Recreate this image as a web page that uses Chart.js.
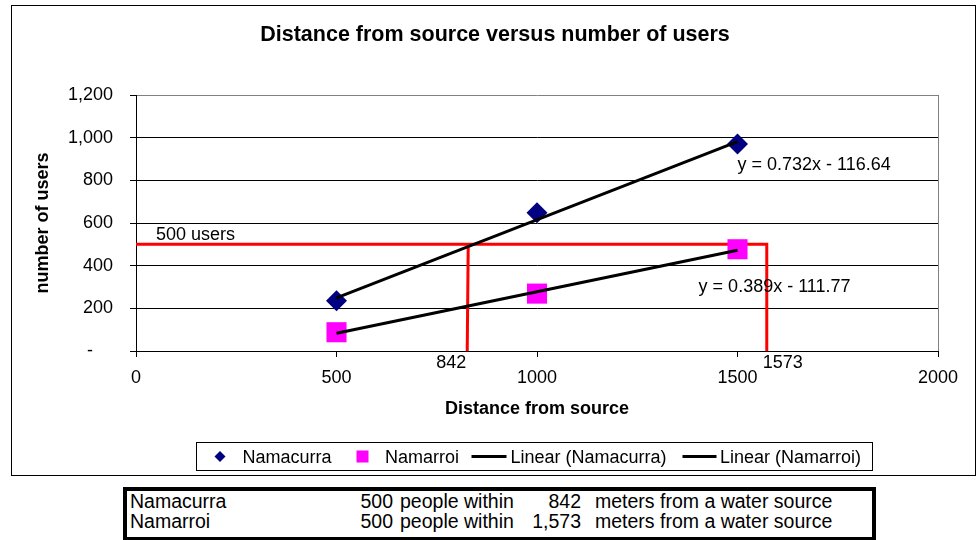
<!DOCTYPE html>
<html lang="en">
<head>
<meta charset="UTF-8" />
<title>Distance from source versus number of users</title>
<script src="https://cdn.jsdelivr.net/npm/chart.js"></script>
<style>
  body { margin: 0; background: #fff; font-family: "Liberation Sans", Arial, sans-serif; }
  .chart-box {
    position: absolute; left: 11px; top: 5px;
    width: 963px; height: 469px;
    border: 1px solid #000;
  }
  .summary {
    position: absolute; left: 123px; top: 487px;
    width: 753px; height: 54px;
    box-sizing: border-box;
    border: 4px solid #000;
    font-size: 19.5px; line-height: 20px; color: #000;
    padding-top: 0;
  }
  .summary .row { position: relative; height: 20px; }
  .summary span { position: absolute; white-space: nowrap; top: 0; }
  .summary .num { text-align: right; }
</style>
</head>
<body>

<div class="chart-box"><canvas id="chart" width="963" height="469"></canvas></div>
<div class="summary" id="summary"></div>

<script>
  // data
  const seriesNames = ['Namacurra', 'Namarroi'];
  const distances = [500, 1000, 1500];
  const namacurraUsers = [235, 648, 970];
  const namarroiUsers = [88, 269, 477];

  // trendline ends (x = 500 and x = 1500) and their equations
  const trendX = [500, 1500];
  const namacurraTrend = [249, 981];
  const namarroiTrend = [83, 472];
  const trendEquations = ['y = 0.732x - 116.64', 'y = 0.389x - 111.77'];

  // red guide lines
  const guideUsers = 500;
  const guideDistances = [826, 1573];
  const guideLabels = ['842', '1573'];

  // table under the chart
  const tableNames = ['Namacurra', 'Namarroi'];
  const tablePeople = [500, 500];
  const tableMeters = [842, 1573];

  const pts = (xs, ys) => xs.map((v, i) => ({ x: v, y: ys[i] }));

  Chart.defaults.font.family = '"Liberation Sans", Arial, sans-serif';
  Chart.defaults.color = '#000';

  const overlay = {
    id: 'overlay',
    beforeDatasetsDraw(chart) {
      const { ctx, chartArea: a, scales: { x, y } } = chart;
      ctx.save();
      // right edge of plot area
      ctx.strokeStyle = '#808080';
      ctx.lineWidth = 1;
      ctx.beginPath();
      ctx.moveTo(a.right + 0.5, a.top);
      ctx.lineTo(a.right + 0.5, a.bottom);
      ctx.stroke();

      // red 500 users lines
      const gy = y.getPixelForValue(guideUsers);
      const x1 = x.getPixelForValue(guideDistances[0]);
      const x2 = x.getPixelForValue(guideDistances[1]);
      ctx.strokeStyle = '#ff0000';
      ctx.lineWidth = 3;
      ctx.beginPath();
      ctx.moveTo(a.left, gy);
      ctx.lineTo(x2, gy);
      ctx.lineTo(x2, a.bottom);
      ctx.stroke();
      ctx.beginPath();
      ctx.moveTo(x1 + 1, gy);
      ctx.lineTo(x1, a.bottom);
      ctx.stroke();
      ctx.restore();
    },
    afterDraw(chart) {
      const { ctx, chartArea: a, scales: { x, y } } = chart;
      ctx.save();
      ctx.fillStyle = '#000';
      ctx.textBaseline = 'alphabetic';

      // title
      ctx.font = 'bold 21.5px "Liberation Sans", Arial, sans-serif';
      ctx.textAlign = 'center';
      ctx.fillText('Distance from source versus number of users', 483, 35);

      // annotations
      ctx.font = '18px "Liberation Sans", Arial, sans-serif';
      ctx.textAlign = 'left';
      ctx.fillText(guideUsers + ' users', a.left + 20, y.getPixelForValue(guideUsers) - 4);
      ctx.fillText(trendEquations[0], x.getPixelForValue(1500), y.getPixelForValue(850));
      ctx.fillText(trendEquations[1], x.getPixelForValue(1403), y.getPixelForValue(277));
      ctx.textAlign = 'right';
      ctx.fillText(guideLabels[0], x.getPixelForValue(guideDistances[0]) - 1, a.bottom + 17);
      ctx.textAlign = 'left';
      ctx.fillText(guideLabels[1], x.getPixelForValue(guideDistances[1]) - 4, a.bottom + 17);

      // legend
      const lx = 184.5, ly = 436.5, lw = 676, lh = 28;
      ctx.strokeStyle = '#000';
      ctx.lineWidth = 1;
      ctx.strokeRect(lx, ly, lw, lh);
      const cy = ly + lh / 2;
      const base = 456.5;
      const names = chart.data.datasets.map(d => d.label);
      // diamond
      ctx.fillStyle = '#000080';
      ctx.beginPath();
      ctx.moveTo(208, cy - 5.5); ctx.lineTo(213.5, cy); ctx.lineTo(208, cy + 5.5); ctx.lineTo(202.5, cy);
      ctx.closePath(); ctx.fill();
      // square
      ctx.fillStyle = '#ff00ff';
      ctx.fillRect(344.5, cy - 6, 12, 12);
      // lines
      ctx.strokeStyle = '#000';
      ctx.lineWidth = 3;
      ctx.beginPath();
      ctx.moveTo(459.5, cy); ctx.lineTo(494.5, cy);
      ctx.moveTo(670.5, cy); ctx.lineTo(704.5, cy);
      ctx.stroke();
      ctx.fillStyle = '#000';
      ctx.textAlign = 'left';
      ctx.font = '18px "Liberation Sans", Arial, sans-serif';
      ctx.fillText(names[2], 230.5, base);
      ctx.fillText(names[3], 373, base);
      ctx.fillText(names[0], 498.5, base);
      ctx.fillText(names[1], 708, base);
      ctx.restore();
    }
  };

  new Chart(document.getElementById('chart'), {
    type: 'scatter',
    data: {
      datasets: [
        {
          type: 'line',
          label: 'Linear (' + seriesNames[0] + ')',
          data: pts(trendX, namacurraTrend),
          borderColor: '#000', borderWidth: 3, pointRadius: 0, fill: false, order: 0
        },
        {
          type: 'line',
          label: 'Linear (' + seriesNames[1] + ')',
          data: pts(trendX, namarroiTrend),
          borderColor: '#000', borderWidth: 3, pointRadius: 0, fill: false, order: 0
        },
        {
          label: seriesNames[0],
          data: pts(distances, namacurraUsers),
          pointStyle: 'rectRot', pointRadius: 10.5,
          backgroundColor: '#000080', borderColor: '#000080', borderWidth: 0, order: 1
        },
        {
          label: seriesNames[1],
          data: pts(distances, namarroiUsers),
          pointStyle: 'rect', pointRadius: 14.2,
          backgroundColor: '#ff00ff', borderColor: '#ff00ff', borderWidth: 0, order: 1
        }
      ]
    },
    options: {
      responsive: false,
      animation: false,
      events: [],
      layout: { padding: { left: 0, right: 37, top: 89, bottom: 49 } },
      plugins: { legend: { display: false }, tooltip: { enabled: false }, title: { display: false } },
      scales: {
        x: {
          type: 'linear', min: 0, max: 2000,
          ticks: { stepSize: 500, padding: 10, font: { size: 18 }, maxRotation: 0, callback: v => String(v) },
          grid: { drawOnChartArea: false, drawTicks: true, tickLength: 6, tickColor: '#000' },
          border: { color: '#000', width: 1 },
          title: { display: true, text: 'Distance from source', font: { size: 18, weight: 'bold' }, padding: { top: 0, bottom: 6 } },
          afterFit(scale) { scale.height = 75; }
        },
        y: {
          min: 0, max: 1200,
          ticks: {
            stepSize: 200, padding: 17, font: { size: 18 },
            callback: v => v === 0 ? '-    ' : v.toLocaleString('en-US')
          },
          grid: {
            color: c => c.tick && c.tick.value === 1200 ? '#808080' : '#000',
            lineWidth: 1, tickLength: 6, tickColor: '#000'
          },
          border: { color: '#000', width: 1 },
          title: { display: true, text: 'number of users', font: { size: 18, weight: 'bold' }, padding: { top: 20, bottom: 0 } },
          afterFit(scale) { scale.width = 124; }
        }
      }
    },
    plugins: [overlay]
  });

  // table under the chart
  const summary = document.getElementById('summary');
  tableNames.forEach((name, i) => {
    const row = document.createElement('div');
    row.className = 'row';
    row.innerHTML =
      '<span style="left:3px">' + name + '</span>' +
      '<span class="num" style="left:0;width:266px">' + tablePeople[i] + '</span>' +
      '<span style="left:273px">people within</span>' +
      '<span class="num" style="left:0;width:454px">' + tableMeters[i].toLocaleString('en-US') + '</span>' +
      '<span style="left:468px">meters from a water source</span>';
    summary.appendChild(row);
  });
</script>
</body>
</html>
